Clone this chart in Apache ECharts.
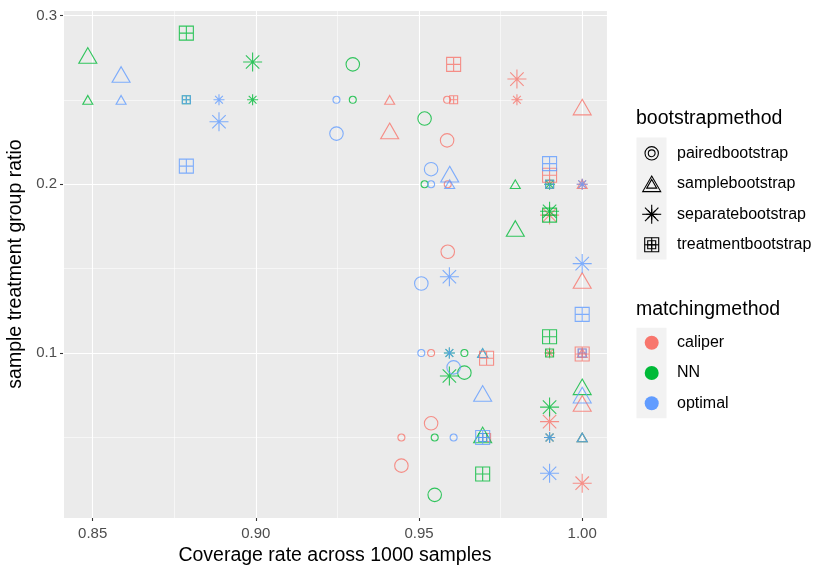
<!DOCTYPE html>
<html>
<head>
<meta charset="utf-8">
<script src="https://cdn.jsdelivr.net/npm/echarts@6/dist/echarts.min.js"></script>
<style>
  html, body { margin: 0; padding: 0; background: #fff; }
  #chart { width: 830px; height: 575px; }
</style>
</head>
<body>
<div id="chart"></div>
<script>
// true ratio of each of the 4 points in every group
const trueRatio = [0.25, 0.2, 0.1, 0.05];
const bootstrapMethods = ['pairedbootstrap', 'samplebootstrap', 'separatebootstrap', 'treatmentbootstrap'];
const matchingMethods = ['caliper', 'NN', 'optimal'];

// coverage (x) and estimated ratio (y), one row per bootstrap method
const caliperCoverage = [
  [0.9586, 0.9588, 0.9537, 0.9446],
  [0.941, 1.0, 1.0, 1.0],
  [0.98, 1.0, 0.99, 0.99],
  [0.9606, 0.99, 1.0, 0.9707]
];
const caliperEstimate = [
  [0.226, 0.16, 0.0584, 0.0333],
  [0.2316, 0.2457, 0.143, 0.0702],
  [0.2623, 0.0229, 0.1817, 0.0594],
  [0.271, 0.2053, 0.0994, 0.0969]
];
const nnCoverage = [
  [0.9297, 0.9517, 0.9639, 0.9548],
  [0.8485, 0.9795, 0.9695, 1.0],
  [0.899, 0.99, 0.9593, 0.99],
  [0.8787, 0.99, 0.99, 0.9695]
];
const nnEstimate = [
  [0.271, 0.2389, 0.0884, 0.016],
  [0.2763, 0.1738, 0.0515, 0.08],
  [0.2724, 0.184, 0.0864, 0.068],
  [0.2895, 0.1817, 0.1097, 0.0284]
];
const optimalCoverage = [
  [0.9247, 0.9537, 0.9507, 0.9606],
  [0.8587, 0.9594, 0.9695, 1.0],
  [0.8887, 1.0, 0.9593, 0.99],
  [0.8787, 0.99, 1.0, 0.9695]
];
const optimalEstimate = [
  [0.23, 0.2089, 0.1412, 0.0915],
  [0.265, 0.206, 0.0761, 0.0751],
  [0.237, 0.153, 0.1452, 0.0288],
  [0.2107, 0.2122, 0.1229, 0.05]
];

const colors = ['#F8766D', '#00BA38', '#619CFF'];
const FONT = 'Liberation Sans, Arial, sans-serif';
const STAR = 'path://M0 -1V1M-1 0H1M-0.707 -0.707L0.707 0.707M-0.707 0.707L0.707 -0.707';
const SQPLUS = 'path://M-1 -1H1V1H-1ZM0 -1V1M-1 0H1';
const shapes = ['circle', 'triangle', STAR, SQPLUS];
const smallSize = [7, [10, 8.7], 11, 8];
const bigSize = [13.5, [18, 15.6], 19, 14];

const coverageByMethod = [caliperCoverage, nnCoverage, optimalCoverage];
const estimateByMethod = [caliperEstimate, nnEstimate, optimalEstimate];

const smallSeries = [];
const bigSeries = [];
matchingMethods.forEach(function (m, mi) {
  bootstrapMethods.forEach(function (b, bi) {
    const xs = coverageByMethod[mi][bi];
    const ests = estimateByMethod[mi][bi];
    const style = { color: 'rgba(0,0,0,0)', borderColor: colors[mi], borderWidth: 1.1 };
    smallSeries.push({
      name: m + '-' + b + '-true', type: 'scatter', symbol: shapes[bi], symbolSize: smallSize[bi],
      itemStyle: style, silent: true,
      data: xs.map(function (x, i) { return [x, trueRatio[i]]; })
    });
    bigSeries.push({
      name: m + '-' + b, type: 'scatter', symbol: shapes[bi], symbolSize: bigSize[bi],
      itemStyle: style, silent: true,
      data: xs.map(function (x, i) { return [x, ests[i]]; })
    });
  });
});

// legend drawn like ggplot's guides
const black = { stroke: '#000', lineWidth: 1.1, fill: 'none' };
function tri(cx, cy, w, h) {
  return { type: 'polygon', shape: { points: [[cx, cy - h / 2], [cx + w / 2, cy + h / 2], [cx - w / 2, cy + h / 2]] }, style: black };
}
function star(cx, cy, d) {
  const r = d / 2, q = r * 0.707;
  return [[0, -r, 0, r], [-r, 0, r, 0], [-q, -q, q, q], [-q, q, q, -q]].map(function (s) {
    return { type: 'line', shape: { x1: cx + s[0], y1: cy + s[1], x2: cx + s[2], y2: cy + s[3] }, style: black };
  });
}
function sq(cx, cy, d) {
  const r = d / 2;
  return [
    { type: 'rect', shape: { x: cx - r, y: cy - r, width: d, height: d }, style: black },
    { type: 'line', shape: { x1: cx, y1: cy - r, x2: cx, y2: cy + r }, style: black },
    { type: 'line', shape: { x1: cx - r, y1: cy, x2: cx + r, y2: cy }, style: black }
  ];
}
function label(x, y, text, size) {
  return { type: 'text', x: x, y: y, style: { text: text, fontSize: size, fill: '#000', fontFamily: FONT, verticalAlign: 'middle' } };
}
const keyX = 651.7;
const bKeyY = [153.3, 183.8, 214.3, 244.8];
const mKeyY = [342.8, 373, 403.2];
let legend = [
  label(636, 119, 'bootstrapmethod', 19.5),
  { type: 'rect', shape: { x: 636.5, y: 137.5, width: 30, height: 122 }, style: { fill: '#F2F2F2' } },
  { type: 'circle', shape: { cx: keyX, cy: bKeyY[0], r: 6.7 }, style: black },
  { type: 'circle', shape: { cx: keyX, cy: bKeyY[0], r: 3.4 }, style: black },
  tri(keyX, bKeyY[1], 18, 15.6), tri(keyX, bKeyY[1], 10, 8.7)
].concat(star(keyX, bKeyY[2], 19), star(keyX, bKeyY[2], 11), sq(keyX, bKeyY[3], 14), sq(keyX, bKeyY[3], 8));
bootstrapMethods.forEach(function (b, i) {
  legend.push(label(677, bKeyY[i], b, 16));
});
legend.push(label(636, 309.5, 'matchingmethod', 19.5));
legend.push({ type: 'rect', shape: { x: 636.5, y: 327.7, width: 30, height: 90.6 }, style: { fill: '#F2F2F2' } });
matchingMethods.forEach(function (m, i) {
  legend.push({ type: 'circle', shape: { cx: keyX, cy: mKeyY[i], r: 7 }, style: { fill: colors[i] } });
  legend.push(label(677, mKeyY[i], m, 16));
});

const chart = echarts.init(document.getElementById('chart'), null, { renderer: 'canvas' });
const option = {
  animation: false,
  textStyle: { fontFamily: FONT },
  grid: { left: 63, right: 223, top: 10, bottom: 57, show: true, backgroundColor: '#EBEBEB', borderWidth: 0,
    containLabel: false, outerBoundsMode: 'none' },
  xAxis: {
    type: 'value', min: 0.8409, max: 1.0076, splitNumber: 3,
    name: 'Coverage rate across 1000 samples', nameLocation: 'middle', nameGap: 26,
    nameTextStyle: { color: '#000', fontSize: 19.5 },
    axisLine: { show: false },
    axisTick: { show: true, length: 3, lineStyle: { color: '#333', width: 1.1 } },
    axisLabel: { color: '#4D4D4D', fontSize: 15, margin: 8, showMinLabel: false, showMaxLabel: false,
      formatter: function (v) { return v.toFixed(2); } },
    splitLine: { lineStyle: { color: '#fff', width: 1.1 } },
    minorTick: { show: false, splitNumber: 2 },
    minorSplitLine: { show: true, lineStyle: { color: '#fff', width: 0.55 } }
  },
  yAxis: {
    type: 'value', min: 0.0023, max: 0.3032, splitNumber: 3,
    name: 'sample treatment group ratio', nameLocation: 'middle', nameGap: 33,
    nameTextStyle: { color: '#000', fontSize: 19.5 },
    axisLine: { show: false },
    axisTick: { show: true, length: 3, lineStyle: { color: '#333', width: 1.1 } },
    axisLabel: { color: '#4D4D4D', fontSize: 15, margin: 6, showMinLabel: false, showMaxLabel: false,
      formatter: function (v) { return v.toFixed(1); } },
    splitLine: { lineStyle: { color: '#fff', width: 1.1 } },
    minorTick: { show: false, splitNumber: 2 },
    minorSplitLine: { show: true, lineStyle: { color: '#fff', width: 0.55 } }
  },
  graphic: legend,
  series: smallSeries.concat(bigSeries)
};
chart.setOption(option);
</script>
</body>
</html>
